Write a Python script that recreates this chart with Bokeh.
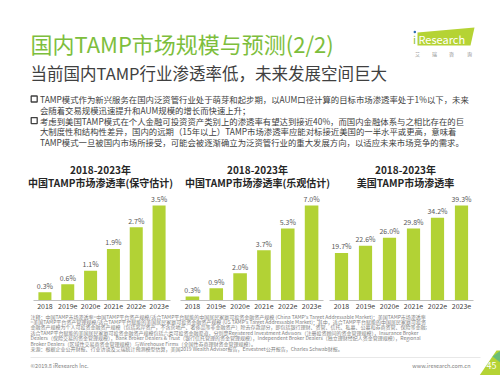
from bokeh.plotting import figure
from bokeh.models import Range1d, FactorRange, ColumnDataSource
from bokeh.layouts import column, row
from bokeh.core.properties import value
from bokeh.embed import file_html
from bokeh.resources import INLINE

FONT = "Noto Sans CJK SC"
BAR = "#B2D235"
GREEN = "#7DBE3C"

# ---------------- data ----------------
years = ["2018", "2019e", "2020e", "2021e", "2022e", "2023e"]
cn_conservative = [0.3, 0.6, 1.1, 1.9, 2.7, 3.5]
cn_optimistic = [0.3, 0.9, 2.0, 3.7, 5.3, 7.0]
us_rate = [19.7, 22.6, 26.0, 29.8, 34.2, 39.3]

chart_titles = [
    ("2018-2023年", "中国TAMP市场渗透率(保守估计)"),
    ("2018-2023年", "中国TAMP市场渗透率(乐观估计)"),
    ("2018-2023年", "美国TAMP市场渗透率"),
]

title = "国内TAMP市场规模与预测(2/2)"
subtitle = "当前国内TAMP行业渗透率低，未来发展空间巨大"
bullet_lines = [
    "TAMP模式作为新兴服务在国内泛资管行业处于萌芽和起步期，以AUM口径计算的目标市场渗透率处于1%以下，未来",
    "会随着交易规模迅速提升和AUM规模的增长而快速上升；",
    "考虑到美国TAMP模式在个人金融可投资资产类别上的渗透率有望达到接近40%，而国内金融体系与之相比存在的巨",
    "大制度性和结构性差异，国内的远期（15年以上）TAMP市场渗透率应能对标接近美国的一半水平或更高，意味着",
    "TAMP模式一旦被国内市场所接受，可能会被逐渐确立为泛资管行业的重大发展方向，以适应未来市场竞争的需求。",
]
note_lines = [
    "注释：中国TAMP市场渗透率=中国TAMP平台资产规模/适合TAMP平台赋能的中国居民家庭可投资金融资产规模 (China TAMP's Target Addressable Market)；美国TAMP市场渗透率",
    "=美国TAMP平台资产管理规模/适合TAMP平台赋能的美国居民家庭可投资金融资产规模 (US TAMP's Target Addressable Market)；其中，适合TAMP平台赋能的中国居民家庭可投资",
    "金融资产规模为个人可投资金融资产规模（包括离岸资产，不含房地产、奢侈品等非金融资产）除去存款部分，即包括银行理财、资管、信托、私募、公募和券商资管、保险等金融;",
    "适合TAMP平台赋能的美国居民家庭可投资金融资产规模包括六类可投资金融渠道，分别是Registered Investment Advisors（注册投资顾问的资金管理规模），Insurance Broker",
    "Dealers（保险交易的资金管理规模），Bank Broker Dealers & Trust（银行信托管理的资金管理规模），Independent Broker Dealers（独立理财经纪人资金管理规模），Regional",
    "Broker Dealers（区域性交易商资金管理规模）与Wirehouse Firms（全国性券商理财资金管理规模）。",
    "来源：根据企业公开财报、行业访谈及艾瑞统计预测模型估算，美国2019 Wealth Advisor报告，Envestnet公开报告，Charles Schwab财报。",
]


def canvas(h, top, bottom):
    p = figure(width=500, height=h, x_range=Range1d(0, 500), y_range=Range1d(bottom, top),
               toolbar_location=None, output_backend="svg", x_axis_location=None,
               y_axis_location=None, min_border=0, outline_line_color=None)
    p.grid.visible = False
    return p


def txt(p, x, y, s, size, color, align="left", bold=False, baseline="middle"):
    p.text(x=[x], y=[y], text=[s], text_font=value(FONT), text_font_size=size,
           text_color=color, text_align=align, text_baseline=baseline,
           text_font_style="bold" if bold else "normal")


# ---------------- header ----------------
head = canvas(190, 0, 190)
txt(head, 30, 42, title, "22px", GREEN)
txt(head, 30, 72, subtitle, "16.5px", "#404040")

# logo
head.patch(x=[417, 474, 470, 417], y=[32, 27, 45, 45], fill_color="#B5D334", line_color=None)
txt(head, 412.5, 38.5, "i", "11px", "#8DBF2E")
head.scatter(x=[414.3], y=[31.5], size=2.5, fill_color="#2E6DB4", line_color=None)
txt(head, 418, 38.5, "Research", "11px", "white")
for xx, ch in zip([417, 434, 451, 469], ["艾", "瑞", "咨", "询"]):
    txt(head, xx, 52.5, ch, "5px", "#8C8C8C", align="center")

# bullets
ys = [98.5, 109.3, 120.1, 130.9, 141.7]
head.scatter(x=[33.7, 33.7], y=[ys[0], ys[2]], marker="square", size=6,
             fill_color=None, line_color="#404040", line_width=1.3)
for yy, line in zip(ys, bullet_lines):
    txt(head, 39.5, yy, line, "8.4px", "#404040")

# chart titles
for cx, (l1, l2) in zip([100, 257, 405], chart_titles):
    txt(head, cx, 169, l1, "10px", "#262626", align="center", bold=True)
    txt(head, cx, 182, l2, "10px", "#262626", align="center", bold=True)


# ---------------- bar charts ----------------
def bar_chart(vals, w, left, right, bw):
    ymax = max(vals) * 110 / 95
    p = figure(width=w, height=122, x_range=FactorRange(*years, range_padding=0),
               y_range=Range1d(0, ymax), toolbar_location=None, output_backend="svg",
               y_axis_location=None, min_border_left=left, min_border_right=right,
               min_border_top=0, min_border_bottom=12, outline_line_color=None)
    p.grid.visible = False
    src = ColumnDataSource(dict(x=years, y=vals, lab=[f"{v:.1f}%" for v in vals]))
    p.vbar(x="x", top="y", width=bw, source=src, fill_color=BAR, line_color=None)
    p.text(x="x", y="y", text="lab", source=src, text_align="center",
           text_baseline="bottom", y_offset=-1.5, text_font_size="7px",
           text_color="#595959", text_font=value(FONT))
    ax = p.xaxis[0]
    ax.axis_line_color = "#BFBFBF"
    ax.major_tick_line_color = None
    ax.minor_tick_line_color = None
    ax.major_tick_out = 0
    ax.major_label_standoff = 2
    ax.major_label_text_font = FONT
    ax.major_label_text_font_size = "7px"
    ax.major_label_text_color = "#404040"
    return p


c1 = bar_chart(cn_conservative, 175, 33, 5, 0.57)
c2 = bar_chart(cn_optimistic, 152, 5, 4, 0.57)
c3 = bar_chart(us_rate, 173, 2, 27, 0.55)

# ---------------- footer ----------------
foot = canvas(63, 312, 375)
for k, line in enumerate(note_lines):
    txt(foot, 30, 315.5 + 5.4 * k, line, "5px", "#808080")
foot.line(x=[30, 480], y=[357, 357], line_color="#D9D9D9", line_width=0.6)
txt(foot, 30, 365.5, "©2019.8 iResearch Inc.", "5.5px", "#808080")
txt(foot, 470, 365.5, "www.iresearch.com.cn", "5.5px", "#808080", align="right")
foot.patch(x=[479, 496, 500, 500], y=[375, 350, 350, 375], fill_color="#B5D334", line_color=None)
foot.patch(x=[492, 500, 500], y=[356, 350, 362], fill_color="#58B88A", line_color=None, fill_alpha=0.8)
txt(foot, 491, 364.5, "45", "9px", "white", align="center")

layout = column(head, row(c1, c2, c3), foot)
open("out.html", "w").write(file_html(layout, INLINE))
